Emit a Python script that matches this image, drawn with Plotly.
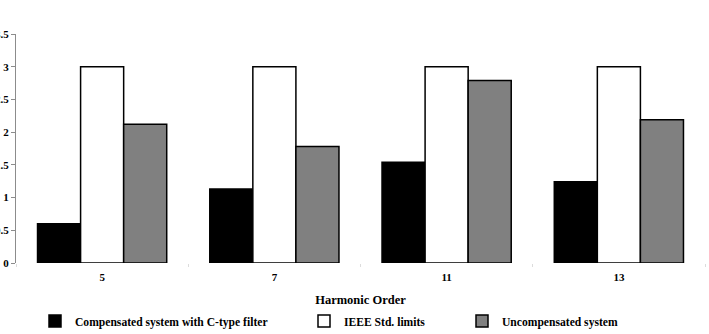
import plotly.graph_objects as go

harmonic_orders = ["5", "7", "11", "13"]
compensated = [0.60, 1.13, 1.54, 1.24]
ieee_limits = [3.0, 3.0, 3.0, 3.0]
uncompensated = [2.12, 1.78, 2.79, 2.19]
series_names = ["Compensated system with C-type filter", "IEEE Std. limits", "Uncompensated system"]
y_tick_vals = [0, 0.5, 1, 1.5, 2, 2.5, 3, 3.5]
y_tick_text = ["0", "0.5", "1", "1.5", "2", "2.5", "3", "3.5"]

W, H = 709, 334
FONT = "Liberation Serif, Times New Roman, serif"

fig = go.Figure()
fills = ["#000000", "#ffffff", "#808080"]
legends = ["legend", "legend2", "legend3"]
for vals, name, fill, lg in zip([compensated, ieee_limits, uncompensated], series_names, fills, legends):
    fig.add_trace(go.Bar(
        x=harmonic_orders, y=vals, name=name, legend=lg, showlegend=True,
        marker=dict(color=fill, line=dict(color="#000000", width=1.5)),
    ))

leg_font = dict(family=FONT, size=11.6, color="#000000", weight="bold")
leg_common = dict(orientation="h", xref="container", yref="container", xanchor="left",
                  yanchor="middle", y=1 - 321 / H, font=leg_font, bgcolor="rgba(0,0,0,0)",
                  borderwidth=0, itemclick=False)

fig.update_layout(
    width=W, height=H,
    showlegend=True,
    margin=dict(l=15.5, r=4.3, t=34.3, b=70.7, pad=0),
    plot_bgcolor="#ffffff", paper_bgcolor="#ffffff",
    barmode="group", bargap=0.25, bargroupgap=0,
    font=dict(family=FONT, color="#000000"),
    legend=dict(x=35 / W, **leg_common),
    legend2=dict(x=304 / W, **leg_common),
    legend3=dict(x=462 / W, **leg_common),
    xaxis=dict(
        type="category", showline=False, showgrid=False, zeroline=False,
        ticks="outside", tickson="boundaries", ticklen=3, tickcolor="#dcdcdc",
        ticklabelstandoff=6,
        tickfont=dict(family=FONT, size=11, color="#000000", weight="bold"),
        title=dict(text="Harmonic Order", standoff=16,
                   font=dict(family=FONT, size=12.5, color="#000000", weight="bold")),
        automargin=False,
    ),
    yaxis=dict(
        range=[0, 3.5], tickvals=y_tick_vals, ticktext=y_tick_text,
        showline=True, linecolor="#8c8c8c", linewidth=1,
        ticks="outside", ticklen=4, tickcolor="#8c8c8c",
        showgrid=False, zeroline=False,
        tickfont=dict(family=FONT, size=11, color="#000000", weight="bold"),
        automargin=False,
    ),
)

fig.write_html("out.html")
